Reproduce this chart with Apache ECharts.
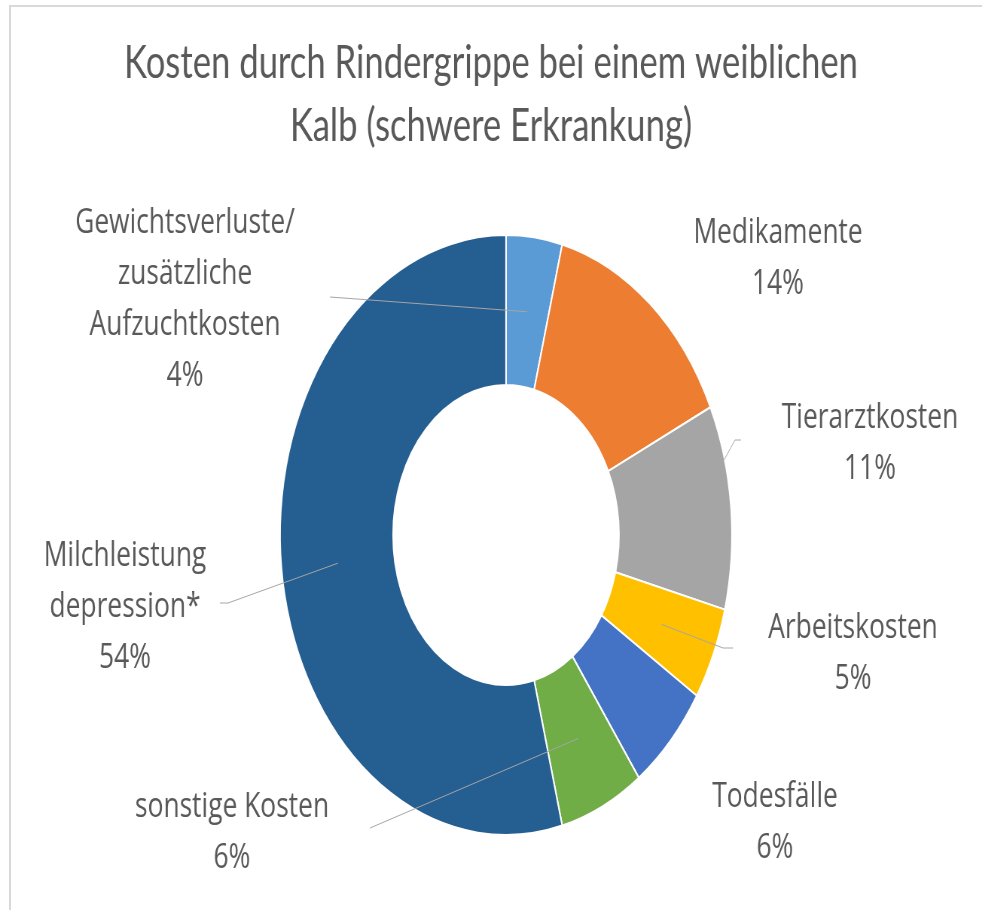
<!DOCTYPE html>
<html><head><meta charset="utf-8">
<script src="https://cdn.jsdelivr.net/npm/echarts@6/dist/echarts.min.js"></script>
<style>
html,body{margin:0;padding:0;background:#fff;overflow:hidden;width:982px;height:910px;}
#frame{position:absolute;left:9px;top:5px;width:990px;height:920px;border-top:2px solid #d9d9d9;border-left:2px solid #d9d9d9;pointer-events:none;z-index:2}
#chart{position:absolute;left:0;top:0;width:1304px;height:910px;transform:scaleX(0.7531);transform-origin:0 0;}
</style></head><body>
<div id="chart"></div><div id="frame"></div>
<script>
// ---- data ----
const categories = [
  'Gewichtsverluste/\nzusätzliche\nAufzuchtkosten',
  'Medikamente',
  'Tierarztkosten',
  'Arbeitskosten',
  'Todesfälle',
  'sonstige Kosten',
  'Milchleistung\ndepression*'
];
const values = [4, 14, 11, 5, 6, 6, 54];
const titleLines = ['Kosten durch Rindergrippe bei einem weiblichen', 'Kalb (schwere Erkrankung)'];

// ---- styling / layout ----
const colors = ['#5B9BD5', '#ED7D31', '#A5A5A5', '#FFC000', '#4472C4', '#70AD47', '#255E91'];
const SX = 0.7531;               // horizontal squeeze of the picture
const CX = 506 / SX, CY = 535, R_OUT = 300, R_IN = 150;
const labelSpots = [
  {x: 185, y: 300, line: [[330, 297], [330, 297]], r: 225, f: 0.5},
  {x: 778, y: 259},
  {x: 870, y: 444, line: [[741, 440], [735, 440]], r: 299, f: 0.27},
  {x: 853, y: 654, line: [[733, 648], [723, 648]], r: 225, f: 0.5},
  {x: 775, y: 823},
  {x: 232, y: 833, line: [[370, 828], [370, 828]], r: 225, f: 0.5},
  {x: 125, y: 607, line: [[220, 603], [228, 603]], r: 225, f: 0.5}
];
const total = values.reduce((a, b) => a + b, 0);
const starts = []; let acc = 0;
values.forEach(v => { starts.push(acc); acc += v; });
function anchor(i, r, f) {
  const a = (starts[i] + values[i] * f) / total * 2 * Math.PI;
  return [CX + r * Math.sin(a), CY - r * Math.cos(a)];
}

const baseSeries = {
  type: 'pie',
  center: [CX, CY],
  radius: [R_IN, R_OUT],
  startAngle: 90,
  clockwise: true,
  avoidLabelOverlap: false
};

const chart = echarts.init(document.getElementById('chart'), null, {renderer: 'canvas'});
chart.setOption({
  backgroundColor: '#ffffff',
  animation: false,
  title: {
    text: titleLines.join('\n'),
    left: 'center',
    top: 27,
    textStyle: {fontFamily: 'Lato', fontSize: 46, fontWeight: 'normal', color: '#595959', lineHeight: 63}
  },
  series: [
    Object.assign({}, baseSeries, {
      name: 'slices',
      z: 2,
      itemStyle: {borderColor: '#ffffff', borderWidth: 2},
      label: {show: false},
      labelLine: {show: false},
      data: categories.map((c, i) => ({name: c, value: values[i], itemStyle: {color: colors[i]}}))
    }),
    Object.assign({}, baseSeries, {
      name: 'labels',
      z: 5,
      silent: true,
      itemStyle: {color: 'rgba(0,0,0,0)', borderWidth: 0},
      label: {
        show: true,
        formatter: '{b}\n{c}%',
        color: '#595959',
        fontFamily: 'Open Sans',
        fontSize: 35,
        lineHeight: 51,
        align: 'center'
      },
      labelLine: {show: true, showAbove: true, lineStyle: {color: '#a6a6a6', width: 1}},
      labelLayout: function (params) {
        const s = labelSpots[params.dataIndex];
        const out = {x: s.x / SX, y: s.y, align: 'center', verticalAlign: 'middle'};
        if (s.line) {
          out.labelLinePoints = s.line.map(p => [p[0] / SX, p[1]]).concat([anchor(params.dataIndex, s.r, s.f)]);
        }
        return out;
      },
      data: categories.map((c, i) => ({
        name: c,
        value: values[i],
        labelLine: {show: !!labelSpots[i].line}
      }))
    })
  ]
});
</script>
</body></html>
